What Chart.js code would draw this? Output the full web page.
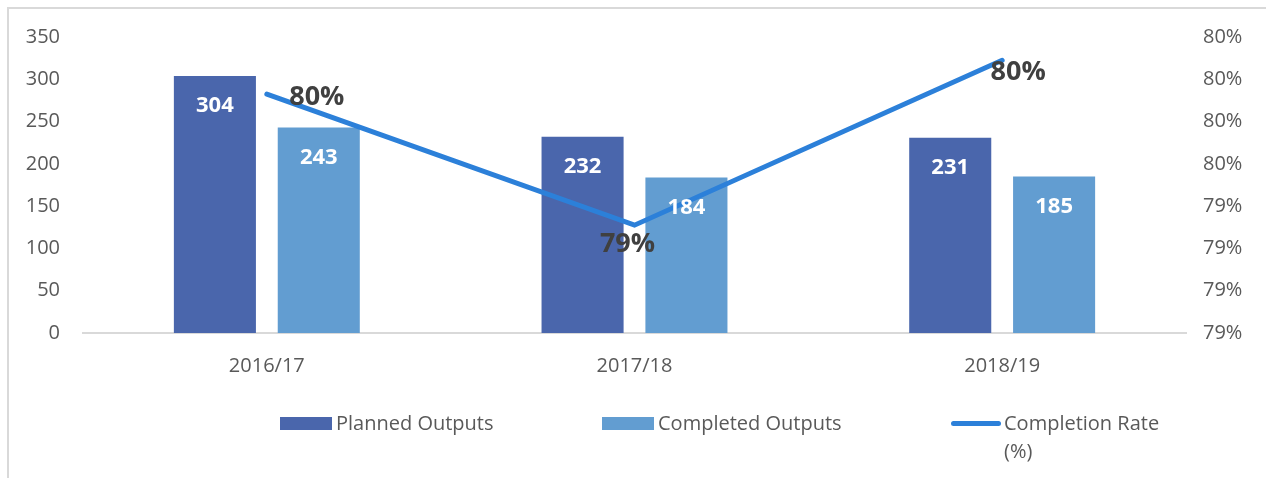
<!DOCTYPE html>
<html>
<head>
<meta charset="utf-8">
<script src="https://cdn.jsdelivr.net/npm/chart.js@4"></script>
<style>
  html, body { margin: 0; padding: 0; background: #fff; }
  #wrap { position: relative; width: 1266px; height: 478px; overflow: hidden; font-family: "Open Sans", sans-serif; }
  #frame { position: absolute; left: 7px; top: 7px; right: -2px; bottom: -2px; border-left: 2px solid #d9d9d9; border-top: 2px solid #d9d9d9; }
  #myChart { position: absolute; left: 0; top: 0; }
  .leg { position: absolute; top: 409px; display: flex; align-items: flex-start; color: #595959; font-size: 20px; line-height: 28px; }
  .leg .sw { width: 52px; height: 13px; margin: 8px 4px 0 0; }
  .leg .ln { width: 50px; height: 5px; border-radius: 3px; margin: 12px 3px 0 0; }
</style>
</head>
<body>
<div id="wrap">
  <div id="frame"></div>
  <canvas id="myChart" width="1266" height="478"></canvas>
  <div id="legend"></div>
</div>
<script>
// 数据
var categories = ["2016/17", "2017/18", "2018/19"];
var plannedOutputs = [304, 232, 231];
var completedOutputs = [243, 184, 185];
var completionRate = [79.93, 79.31, 80.09];
var seriesNames = ["Planned Outputs", "Completed Outputs", "Completion Rate (%)"];
var colors = ["#4A66AC", "#629DD1", "#2C80D9"];

// legend (html, wraps like the original)
var legend = document.getElementById("legend");
var legLefts = [280, 602, 951];
seriesNames.forEach(function (name, i) {
    var item = document.createElement("div");
    item.className = "leg";
    item.style.left = legLefts[i] + "px";
    var mark = document.createElement("div");
    mark.className = i < 2 ? "sw" : "ln";
    mark.style.background = colors[i];
    var txt = document.createElement("div");
    txt.textContent = name;
    if (i == 2) txt.style.width = "170px";
    item.appendChild(mark);
    item.appendChild(txt);
    legend.appendChild(item);
});

// labels on bars and line
var labelPlugin = {
    id: "valueLabels",
    afterDatasetsDraw: function (chart) {
        var ctx = chart.ctx;
        ctx.save();
        ctx.textAlign = "center";
        ctx.textBaseline = "middle";
        [0, 1].forEach(function (di) {
            var meta = chart.getDatasetMeta(di);
            meta.data.forEach(function (bar, j) {
                ctx.font = "bold 22px 'Open Sans'";
                ctx.fillStyle = "#ffffff";
                ctx.fillText(chart.data.datasets[di].data[j], bar.x, bar.y + 30);
            });
        });
        var offs = [[50, 3], [-7, 19], [16, 12]];
        var lmeta = chart.getDatasetMeta(2);
        lmeta.data.forEach(function (pt, j) {
            ctx.font = "bold 27px 'Open Sans'";
            ctx.fillStyle = "#404040";
            ctx.fillText(Math.round(chart.data.datasets[2].data[j]) + "%", pt.x + offs[j][0], pt.y + offs[j][1]);
        });
        ctx.restore();
    }
};

var tickFont = { family: "'Open Sans'", size: 20 };
var myChart = new Chart(document.getElementById("myChart"), {
    type: "bar",
    data: {
        labels: categories,
        datasets: [
            { label: seriesNames[0], data: plannedOutputs, backgroundColor: colors[0], yAxisID: "y", order: 2,
              categoryPercentage: 0.565, barPercentage: 0.79 },
            { label: seriesNames[1], data: completedOutputs, backgroundColor: colors[1], yAxisID: "y", order: 2,
              categoryPercentage: 0.565, barPercentage: 0.79 },
            { type: "line", label: seriesNames[2], data: completionRate, borderColor: colors[2], borderWidth: 5,
              borderCapStyle: "round", borderJoinStyle: "miter", pointRadius: 0, tension: 0, fill: false,
              yAxisID: "y1", order: 0 }
        ]
    },
    options: {
        responsive: false,
        animation: false,
        layout: { padding: { top: 37, left: 0, right: 0, bottom: 0 } },
        plugins: { legend: { display: false }, tooltip: { enabled: false } },
        scales: {
            x: {
                grid: { display: false, drawTicks: false },
                border: { display: true, color: "#d9d9d9", width: 2 },
                ticks: { font: tickFont, color: "#595959", padding: 21 },
                afterFit: function (s) { s.height = 145; }
            },
            y: {
                position: "left", min: 0, max: 350,
                grid: { display: false, drawTicks: false },
                border: { display: false },
                ticks: { stepSize: 50, font: tickFont, color: "#595959", padding: 23 },
                afterFit: function (s) { s.width = 83; }
            },
            y1: {
                position: "right", min: 78.8, max: 80.2,
                grid: { display: false, drawTicks: false },
                border: { display: false },
                ticks: { count: 8, font: tickFont, color: "#595959", padding: 17,
                         callback: function (v) { return Math.round(v) + "%"; } },
                afterFit: function (s) { s.width = 80; }
            }
        }
    },
    plugins: [labelPlugin]
});
</script>
</body>
</html>
